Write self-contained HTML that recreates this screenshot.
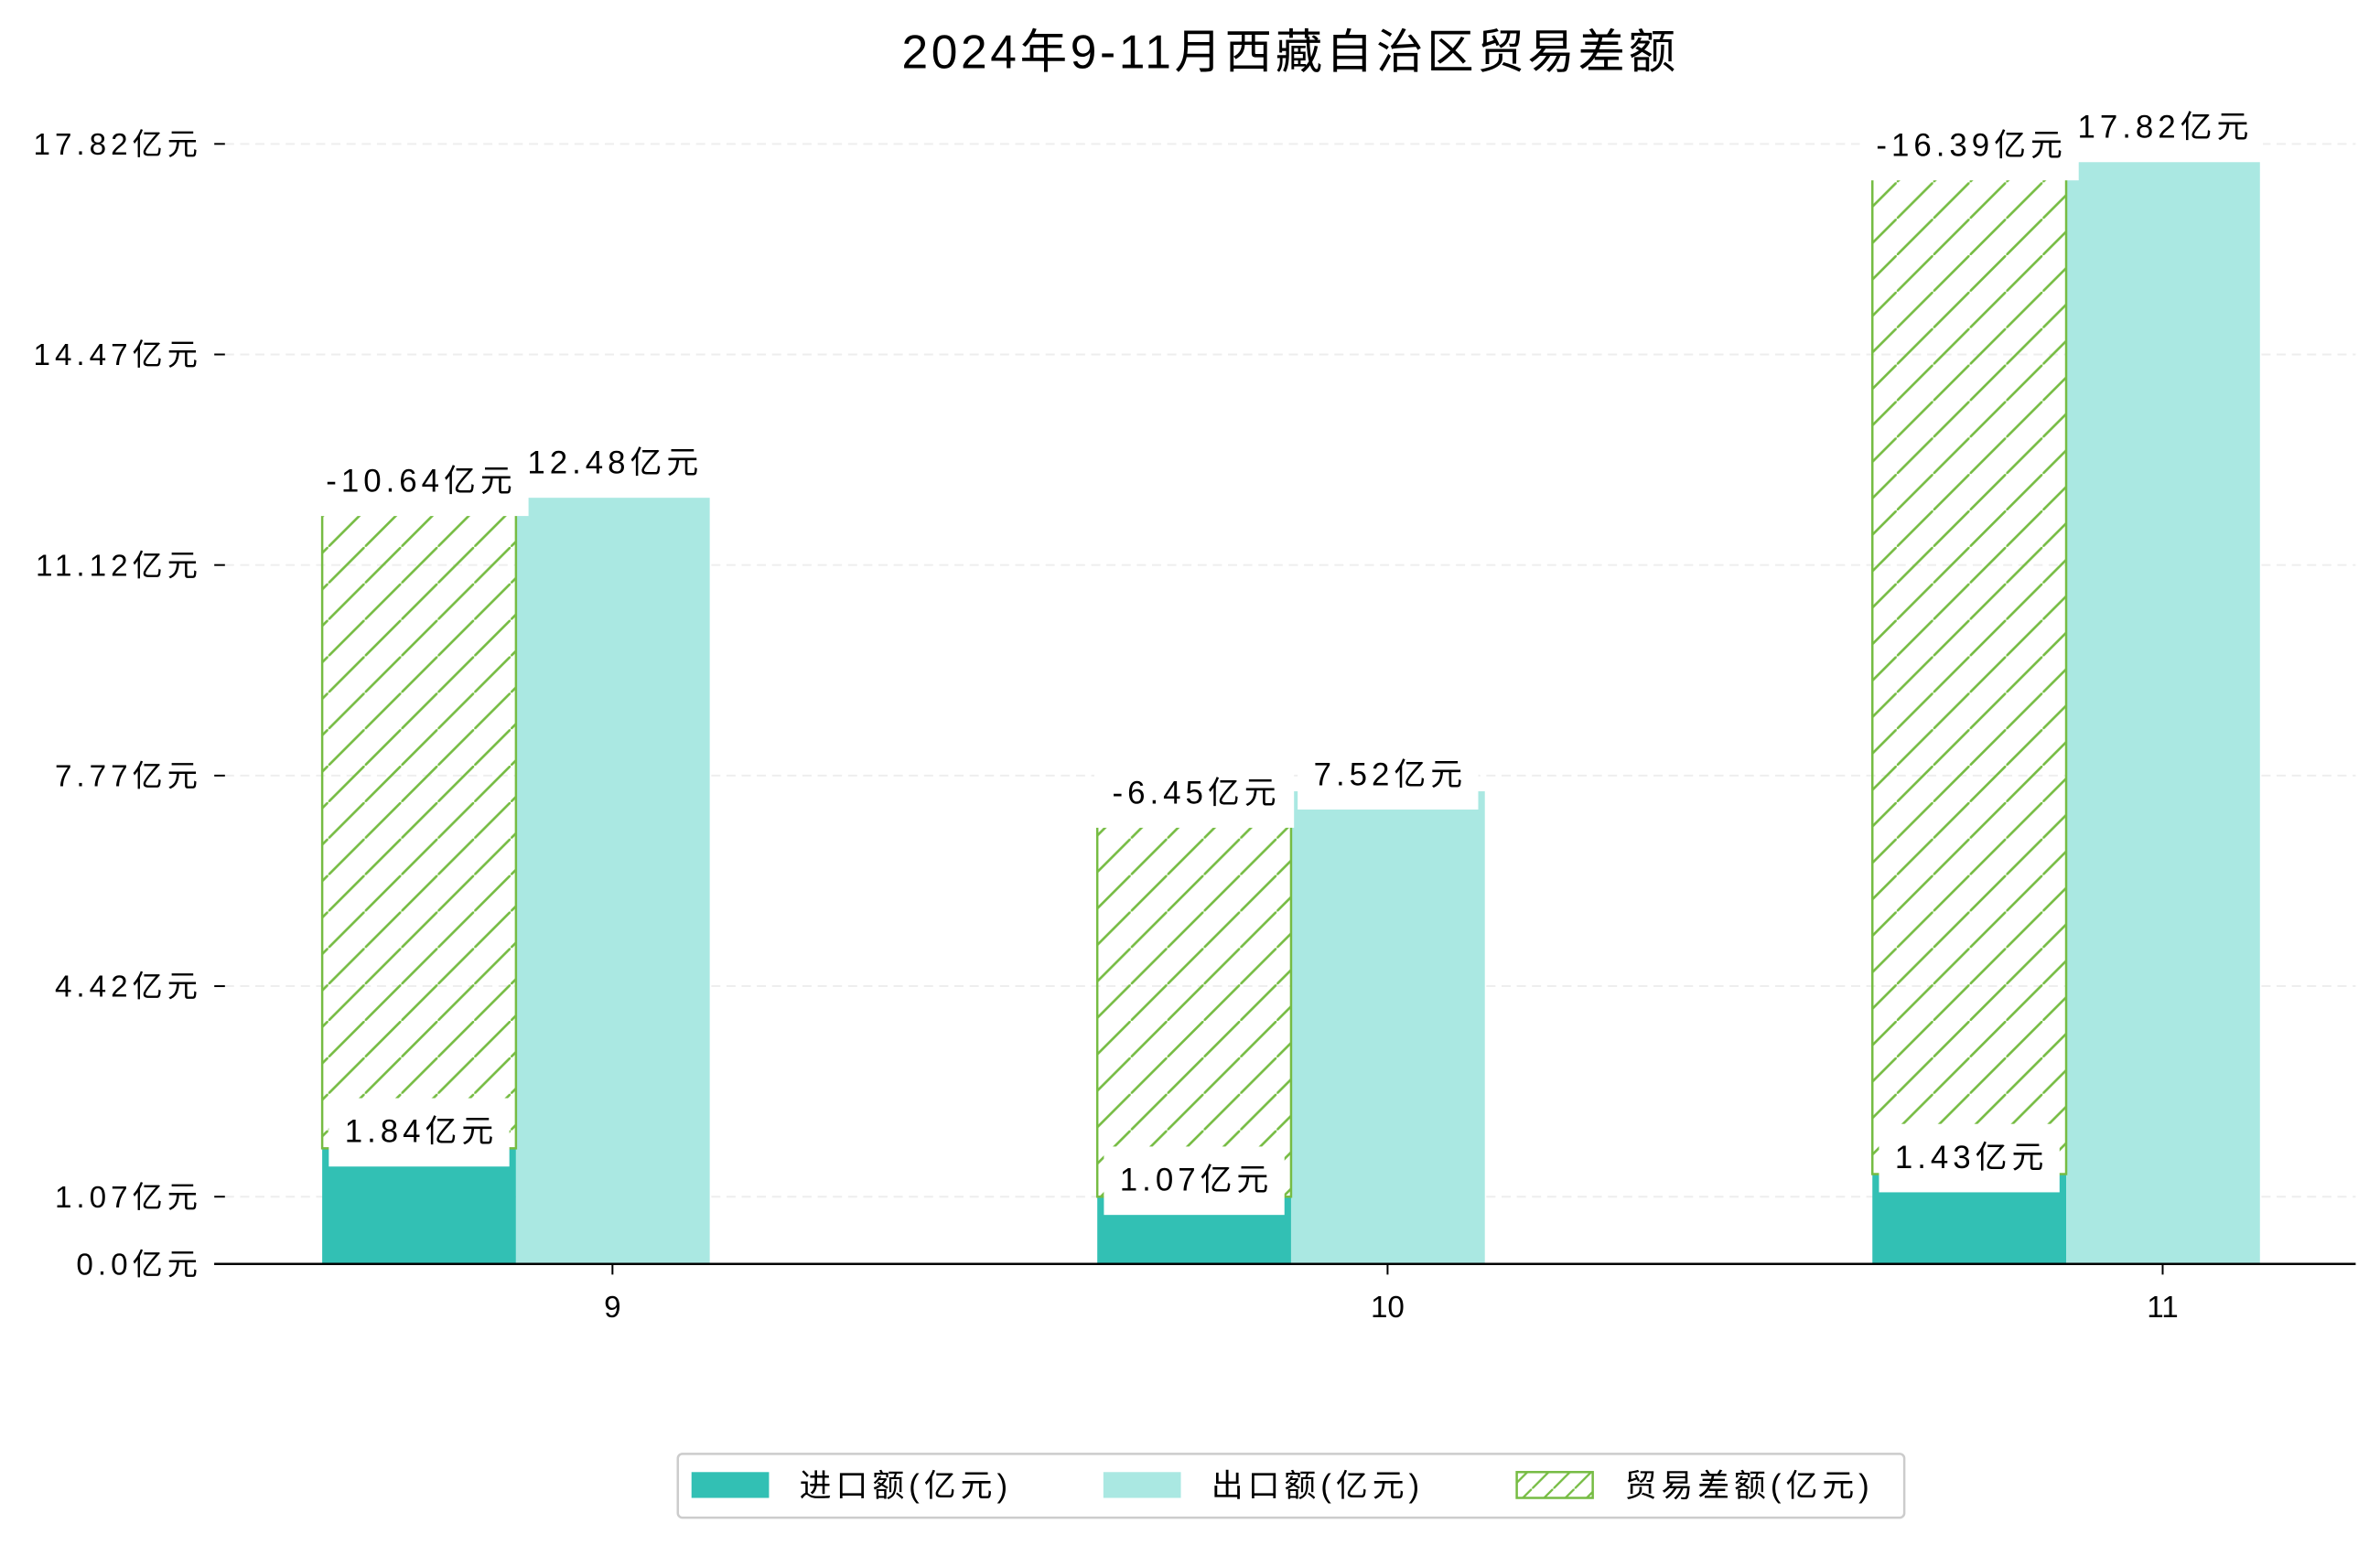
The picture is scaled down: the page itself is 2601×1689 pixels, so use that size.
<!DOCTYPE html>
<html><head><meta charset="utf-8"><style>
html,body{margin:0;padding:0;background:#fff;}
svg{display:block;}
text{font-family:"Liberation Sans","Noto Sans CJK SC",sans-serif;}
</style></head><body>
<svg id="chart" width="2601" height="1689" viewBox="0 0 1566 1017" preserveAspectRatio="none" xmlns="http://www.w3.org/2000/svg">
<defs>
<pattern id="hatch" patternUnits="userSpaceOnUse" width="24" height="24">
<line x1="-3" y1="27" x2="27" y2="-3" stroke="#76bc43" stroke-width="1.6"/>
</pattern>
<pattern id="hatch-small" patternUnits="userSpaceOnUse" width="14" height="14">
<line x1="-2" y1="16" x2="16" y2="-2" stroke="#76bc43" stroke-width="1.4"/>
</pattern>
</defs>
<text x="849" y="45" text-anchor="middle" font-size="31" letter-spacing="2.2" fill="#000">2024年9-11月西藏自治区贸易差额</text>
<g id="grid"></g><g id="bars"></g><g id="axes"></g><g id="labels"></g>
<g>
<rect x="446" y="957" width="807" height="42" fill="#fff" stroke="#ccc" stroke-width="1.5" rx="3"/>
<rect x="455" y="969" width="51" height="17" fill="#32c0b4"/>
<text x="526" y="985" font-size="21" letter-spacing="3">进口额(亿元)</text>
<rect x="726" y="969" width="51" height="17" fill="#aae8e2"/>
<text x="797" y="985" font-size="21" letter-spacing="3">出口额(亿元)</text>
<rect x="998" y="969" width="50" height="17" fill="url(#hatch-small)" stroke="#76bc43" stroke-width="1.5"/>
<text x="1069" y="985" font-size="21" letter-spacing="3">贸易差额(亿元)</text>
</g>
</svg>
<script>
const categories = ["9", "10", "11"];
const importVals = [1.84, 1.07, 1.43];
const exportVals = [12.48, 7.52, 17.82];
const balanceVals = [-10.64, -6.45, -16.39];
const yTicks = [0, 1.07, 4.42, 7.77, 11.12, 14.47, 17.82];
const yTickLabels = ["0.0亿元", "1.07亿元", "4.42亿元", "7.77亿元", "11.12亿元", "14.47亿元", "17.82亿元"];

const NS = "http://www.w3.org/2000/svg";
const baseY = 832, unit = 138.6 / 3.35;
const y = v => baseY - v * unit;
const xCenter = i => 403 + i * 510;
const barW = 127.5;
function mk(tag, attrs, parent, txt) {
  const e = document.createElementNS(NS, tag);
  for (const k in attrs) e.setAttribute(k, attrs[k]);
  if (txt !== undefined) e.textContent = txt;
  document.getElementById(parent).appendChild(e);
  return e;
}
yTicks.forEach((t, i) => {
  if (t > 0) {
    const g = mk("line", {x1: 148, x2: 1550, y1: y(t), y2: y(t), stroke: "#eeeeee", "stroke-width": 1.2, "stroke-dasharray": "6,4"}, "grid");
    
    
  }
  const tk = mk("line", {x1: 141, x2: 148, y1: y(t), y2: y(t), stroke: "#000", "stroke-width": 1.2}, "axes");
  
  
  const lb = mk("text", {x: 133, y: y(t) + 7, "text-anchor": "end", "font-size": 20, "letter-spacing": 3}, "axes", yTickLabels[i]);
  
  
});
const ax = mk("line", {x1: 141, x2: 1550, y1: baseY, y2: baseY, stroke: "#000", "stroke-width": 1.5}, "axes");



function label(cx, cy, txt, name) {
  let units = 0;
  for (const ch of txt) units += ch.charCodeAt(0) > 255 ? 2 : 1;
  const w = units * 12.6;
  const r = mk("rect", {x: cx - w / 2 - 9, y: cy - 22, width: w + 18, height: 45, fill: "#fff"}, "labels");
  
  
  const t = mk("text", {x: cx + 1.5, y: cy + 7, "text-anchor": "middle", "font-size": 21, "letter-spacing": 3}, "labels", txt);
  
  
}

categories.forEach((c, i) => {
  const cx = xCenter(i);
  const impX = cx - 191, expX = cx - 63.5;
  const bi = mk("rect", {x: impX, y: y(importVals[i]), width: barW, height: baseY - y(importVals[i]), fill: "#32c0b4"}, "bars");
  
  
  const be = mk("rect", {x: expX, y: y(exportVals[i]), width: barW, height: baseY - y(exportVals[i]), fill: "#aae8e2"}, "bars");
  
  
  const top = importVals[i] + Math.abs(balanceVals[i]);
  const bh = mk("rect", {x: impX, y: y(top), width: barW, height: y(importVals[i]) - y(top), fill: "url(#hatch)", stroke: "#76bc43", "stroke-width": 1.5}, "bars");
  
  
  const xt = mk("line", {x1: cx, x2: cx, y1: baseY, y2: baseY + 7, stroke: "#000", "stroke-width": 1.2}, "axes");
  
  
  const xl = mk("text", {x: cx, y: 867, "text-anchor": "middle", "font-size": 20}, "axes", c);
  
  
  label(expX + barW / 2, y(exportVals[i]) - 11, exportVals[i].toFixed(2) + "亿元", "export-value-label");
  label(impX + barW / 2, y(top) + 1, balanceVals[i].toFixed(2) + "亿元", "balance-value-label");
  label(impX + barW / 2, y(importVals[i]) - 11, importVals[i].toFixed(2) + "亿元", "import-value-label");
});
</script>
</body></html>
